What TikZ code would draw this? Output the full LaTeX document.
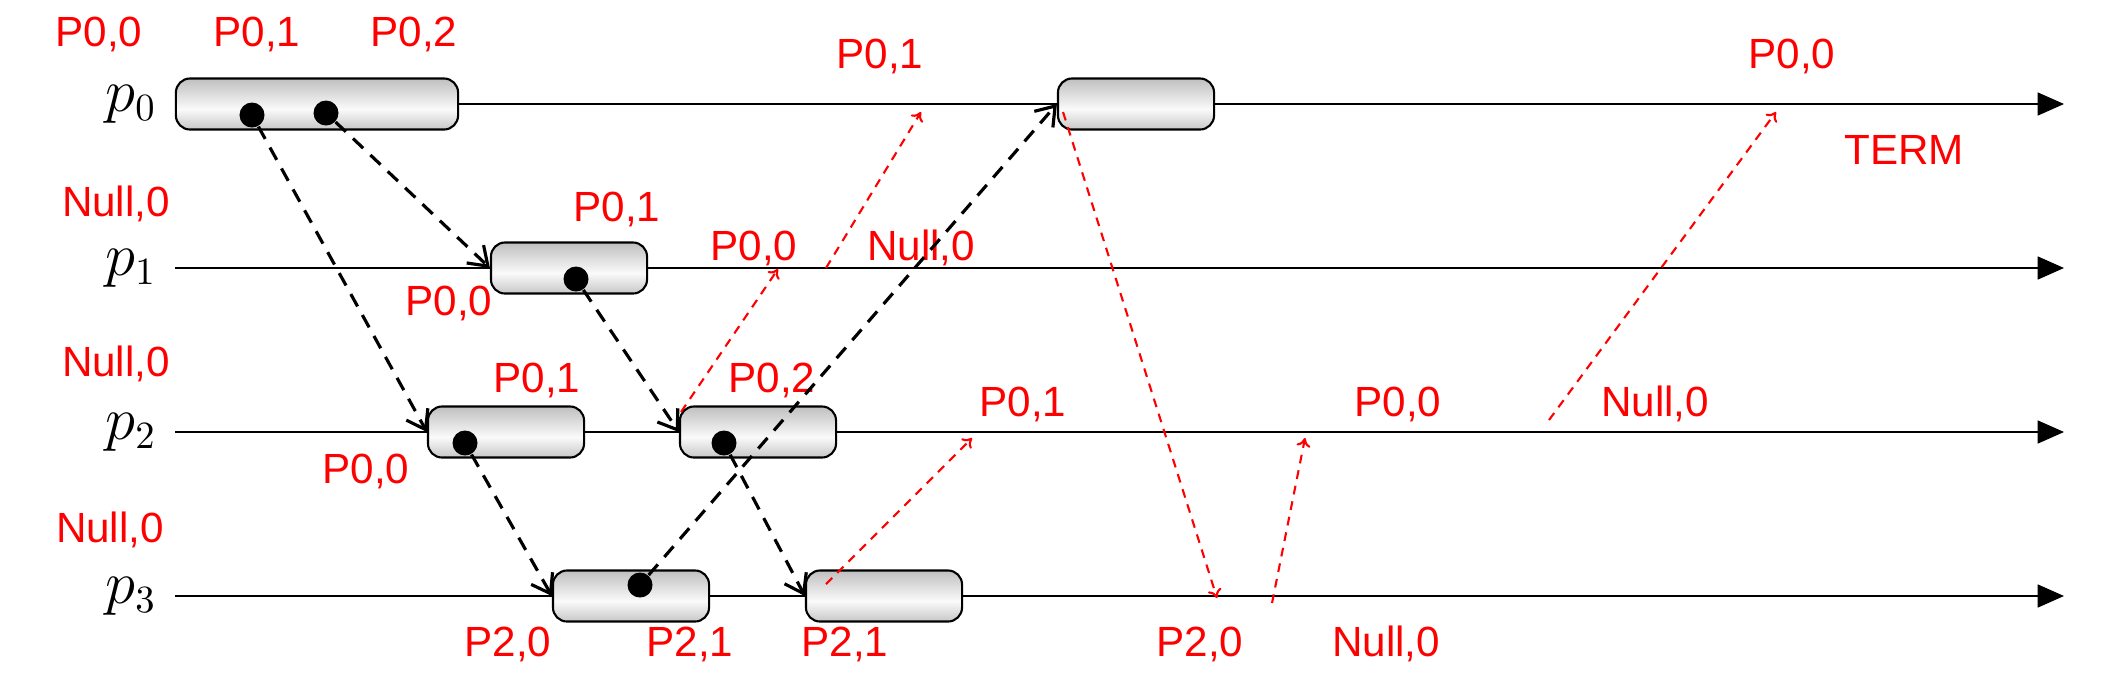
\documentclass[tikz,border=0pt]{standalone}
\usepackage{fontspec}
\usepackage{xcolor}
\usepackage{tikz}
\usetikzlibrary{arrows.meta}

\newfontfamily\lblfont{Liberation Sans}
\pgfdeclareverticalshading{eventshade}{100bp}{rgb(0bp)=(0.78,0.78,0.78); rgb(25bp)=(0.78,0.78,0.78); rgb(45bp)=(0.98,0.98,0.98); rgb(75bp)=(0.75,0.75,0.75); rgb(100bp)=(0.75,0.75,0.75)}

\begin{document}
\begin{tikzpicture}[x=0.01cm, y=-0.01cm,
        evbox/.style={rectangle, rounded corners=4pt, draw, line width=0.6pt, shading=eventshade, inner sep=0pt, minimum height=0.51cm, minimum width=1.56cm},
        evdot/.style={circle, fill=black, inner sep=0pt, minimum size=0.25cm},
        proc/.style={anchor=base east, inner sep=0pt, font=\fontsize{16}{18}\selectfont},
        lbl/.style={anchor=base, inner sep=0pt, text=red, font=\lblfont\fontsize{12}{14}\selectfont},
        timeline/.style={line width=0.6pt, -{Triangle[length=7.5pt, width=6.5pt]}},
        msg/.style={line width=0.9pt, dash pattern=on 4pt off 2.8pt, -{Straight Barb[length=5pt, width=7pt]}},
        ctrl/.style={red, line width=0.6pt, dash pattern=on 2.5pt off 2pt, -{To[length=2.5pt, width=4pt]}}]
        \useasboundingbox (0,0) rectangle (2116,678);

        % Processes
        \node[proc] (p0) at (157,111) {$p_0$};
        \node[proc] (p1) at (157,275) {$p_1$};
        \node[proc] (p2) at (157,439) {$p_2$};
        \node[proc] (p3) at (157,603) {$p_3$};
        \coordinate (s0) at (175,104);
        \coordinate (s1) at (175,268);
        \coordinate (s2) at (175,432);
        \coordinate (s3) at (175,596);
        \coordinate (e0) at (2064,104);
        \coordinate (e1) at (2064,268);
        \coordinate (e2) at (2064,432);
        \coordinate (e3) at (2064,596);
        \draw[timeline] (s0) -- (e0);
        \draw[timeline] (s1) -- (e1);
        \draw[timeline] (s2) -- (e2);
        \draw[timeline] (s3) -- (e3);

        % Events
        \node[evbox, minimum width=2.82cm] (b00) at (317,104) {};
        \node[evbox] (b01) at (1136,104) {};
        \node[evbox] (b10) at (569,268) {};
        \node[evbox] (b20) at (506,432) {};
        \node[evbox] (b21) at (758,432) {};
        \node[evbox] (b30) at (631,596) {};
        \node[evbox] (b31) at (884,596) {};

        % Sends
        \node[evdot] (d00) at (252,115) {};
        \node[evdot] (d01) at (326,113) {};
        \node[evdot] (d10) at (576,279) {};
        \node[evdot] (d20) at (465,443) {};
        \node[evdot] (d21) at (724,443) {};
        \node[evdot] (d30) at (640,585) {};

        % Labels
        \node[lbl] (l00) at (99,46) {P0,0};
        \node[lbl] (l01) at (257,46) {P0,1};
        \node[lbl] (l02) at (414,46) {P0,2};
        \node[lbl] (l03) at (880,68) {P0,1};
        \node[lbl] (l04) at (1792,68) {P0,0};
        \node[lbl] (l05) at (1904,164) {TERM};
        \node[lbl] (l10) at (116,216) {Null,0};
        \node[lbl] (l11) at (617,221) {P0,1};
        \node[lbl] (l12) at (449,315) {P0,0};
        \node[lbl] (l13) at (754,260) {P0,0};
        \node[lbl] (l14) at (921,260) {Null,0};
        \node[lbl] (l20) at (116,376) {Null,0};
        \node[lbl] (l21) at (537,392) {P0,1};
        \node[lbl] (l22) at (366,483) {P0,0};
        \node[lbl] (l23) at (772,392) {P0,2};
        \node[lbl] (l24) at (1023,416) {P0,1};
        \node[lbl] (l25) at (1398,416) {P0,0};
        \node[lbl] (l26) at (1655,416) {Null,0};
        \node[lbl] (l30) at (110,542) {Null,0};
        \node[lbl] (l31) at (508,656) {P2,0};
        \node[lbl] (l32) at (690,656) {P2,1};
        \node[lbl] (l33) at (845,656) {P2,1};
        \node[lbl] (l34) at (1200,656) {P2,0};
        \node[lbl] (l35) at (1386,656) {Null,0};

        % Messages
        \draw[msg] (d00) -- (b20.west);
        \draw[msg] (d01) -- (b10.west);
        \draw[msg] (d10) -- (b21.west);
        \draw[msg] (d20) -- (b30.west);
        \draw[msg] (d21) -- (b31.west);
        \draw[msg] (d30) -- (b01.west);

        % Control messages
        \coordinate (c1a) at (681,412);
        \coordinate (c1b) at (778,269);
        \coordinate (c2a) at (826,268);
        \coordinate (c2b) at (921,112);
        \coordinate (c3a) at (826,584);
        \coordinate (c3b) at (972,438);
        \coordinate (c4a) at (1063,112);
        \coordinate (c4b) at (1217,598);
        \coordinate (c5a) at (1272,603);
        \coordinate (c5b) at (1305,438);
        \coordinate (c6a) at (1549,420);
        \coordinate (c6b) at (1776,112);
        \draw[ctrl] (c1a) -- (c1b);
        \draw[ctrl] (c2a) -- (c2b);
        \draw[ctrl] (c3a) -- (c3b);
        \draw[ctrl] (c4a) -- (c4b);
        \draw[ctrl] (c5a) -- (c5b);
        \draw[ctrl] (c6a) -- (c6b);
\end{tikzpicture}
\end{document}
